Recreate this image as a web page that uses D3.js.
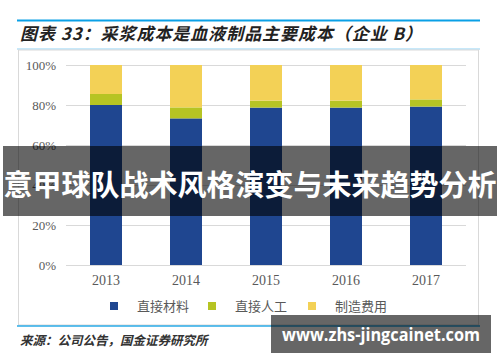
<!DOCTYPE html>
<html>
<head>
<meta charset="utf-8">
<style>
  body { margin: 0; background: #fff; }
  svg { display: block; }
  .tick text { fill: #595959; }
</style>
<script src="https://d3js.org/d3.v7.min.js"></script>
</head>
<body>
<svg width="500" height="362"></svg>
<script>
// data (percent of total cost)
var years = ["2013", "2014", "2015", "2016", "2017"];
var material = [80.0, 73.3, 78.7, 78.7, 79.2];
var labor = [5.5, 5.5, 3.5, 3.5, 3.6];
var overhead = [14.5, 21.2, 17.8, 17.8, 17.2];
var seriesNames = ["直接材料", "直接人工", "制造费用"];
var seriesColors = ["#1f4690", "#b6c423", "#f3d156"];
var yTicks = [0, 20, 40, 60, 80, 100];

var svg = d3.select("svg");

// header lines and title
svg.append("line").attr("x1", 17).attr("x2", 480).attr("y1", 20.5).attr("y2", 20.5)
  .attr("stroke", "#0aa0e6").attr("stroke-width", 2);
svg.append("text").attr("x", 20).attr("y", 40)
  .attr("font-family", "Noto Sans CJK SC").attr("font-size", 17).attr("font-weight", "bold")
  .attr("font-style", "italic").attr("fill", "#222")
  .attr("textLength", 402).attr("lengthAdjust", "spacing")
  .text("图表 33：采浆成本是血液制品主要成本（企业 B）");
svg.append("line").attr("x1", 17).attr("x2", 480).attr("y1", 49).attr("y2", 49)
  .attr("stroke", "#8fd0f2").attr("stroke-width", 1);
svg.append("rect").attr("x", 18.5).attr("y", 50).attr("width", 460).attr("height", 275)
  .attr("fill", "none").attr("stroke", "#d9d9d9");

var x = d3.scaleBand().domain(years).range([66, 466]).paddingInner(0.6).paddingOuter(0.3);
var y = d3.scaleLinear().domain([0, 100]).range([265, 65]);

// grid
svg.append("g").selectAll("line").data(yTicks).join("line")
  .attr("x1", 66).attr("x2", 466)
  .attr("y1", function(d) { return y(d) + 0.5; })
  .attr("y2", function(d) { return y(d) + 0.5; })
  .attr("stroke", "#d9d9d9");

var yAxis = svg.append("g").attr("transform", "translate(56,0)")
  .call(d3.axisLeft(y).tickValues(yTicks).tickSize(0).tickPadding(0)
    .tickFormat(function(d) { return d + "%"; }));
yAxis.select(".domain").remove();
yAxis.selectAll("text").attr("font-family", "Liberation Serif").attr("font-size", 13);

var xAxis = svg.append("g").attr("transform", "translate(0,265)")
  .call(d3.axisBottom(x).tickSize(0).tickPadding(10));
xAxis.select(".domain").remove();
xAxis.selectAll("text").attr("font-family", "Liberation Serif").attr("font-size", 14);

// stacked bars
var rows = years.map(function(yr, i) {
  return { year: yr, a: material[i], b: labor[i], c: overhead[i] };
});
var stack = d3.stack().keys(["a", "b", "c"])(rows);
svg.append("g").selectAll("g").data(stack).join("g")
  .attr("fill", function(d, i) { return seriesColors[i]; })
  .selectAll("rect").data(function(d) { return d; }).join("rect")
  .attr("x", function(d) { return x(d.data.year); })
  .attr("width", x.bandwidth())
  .attr("y", function(d) { return y(d[1]); })
  .attr("height", function(d) { return y(d[0]) - y(d[1]); });

// legend
var legendX = [110, 208, 308];
var legend = svg.append("g").selectAll("g").data(seriesNames).join("g")
  .attr("transform", function(d, i) { return "translate(" + legendX[i] + ",302)"; });
legend.append("rect").attr("width", 8).attr("height", 8)
  .attr("fill", function(d, i) { return seriesColors[i]; });
legend.append("text").attr("x", 27).attr("y", 9)
  .attr("font-family", "Noto Sans CJK SC").attr("font-size", 13).attr("fill", "#595959")
  .text(function(d) { return d; });

// footer
svg.append("line").attr("x1", 17).attr("x2", 480).attr("y1", 326).attr("y2", 326)
  .attr("stroke", "#2aaae6").attr("stroke-width", 1.5);
svg.append("text").attr("x", 20).attr("y", 345)
  .attr("font-family", "Noto Sans CJK SC").attr("font-size", 12.5).attr("font-weight", "bold")
  .attr("font-style", "italic").attr("fill", "#333")
  .text("来源：公司公告，国金证券研究所");

// overlay banner
svg.append("rect").attr("x", 3).attr("y", 146).attr("width", 494).attr("height", 70)
  .attr("fill", "#000").attr("fill-opacity", 0.6);
svg.append("text").attr("x", 250).attr("y", 196).attr("text-anchor", "middle")
  .attr("font-family", "Noto Sans CJK SC").attr("font-weight", "bold").attr("font-size", 29)
  .attr("fill", "#fff").text("意甲球队战术风格演变与未来趋势分析");

// watermark
svg.append("rect").attr("x", 271).attr("y", 315).attr("width", 220).attr("height", 38)
  .attr("fill", "#000").attr("fill-opacity", 0.6);
svg.append("text").attr("x", 381).attr("y", 341).attr("text-anchor", "middle")
  .attr("font-family", "Open Sans").attr("font-weight", "bold").attr("font-size", 17)
  .attr("fill", "#fff").attr("textLength", 198).attr("lengthAdjust", "spacingAndGlyphs")
  .text("www.zhs-jingcainet.com");
</script>
</body>
</html>
